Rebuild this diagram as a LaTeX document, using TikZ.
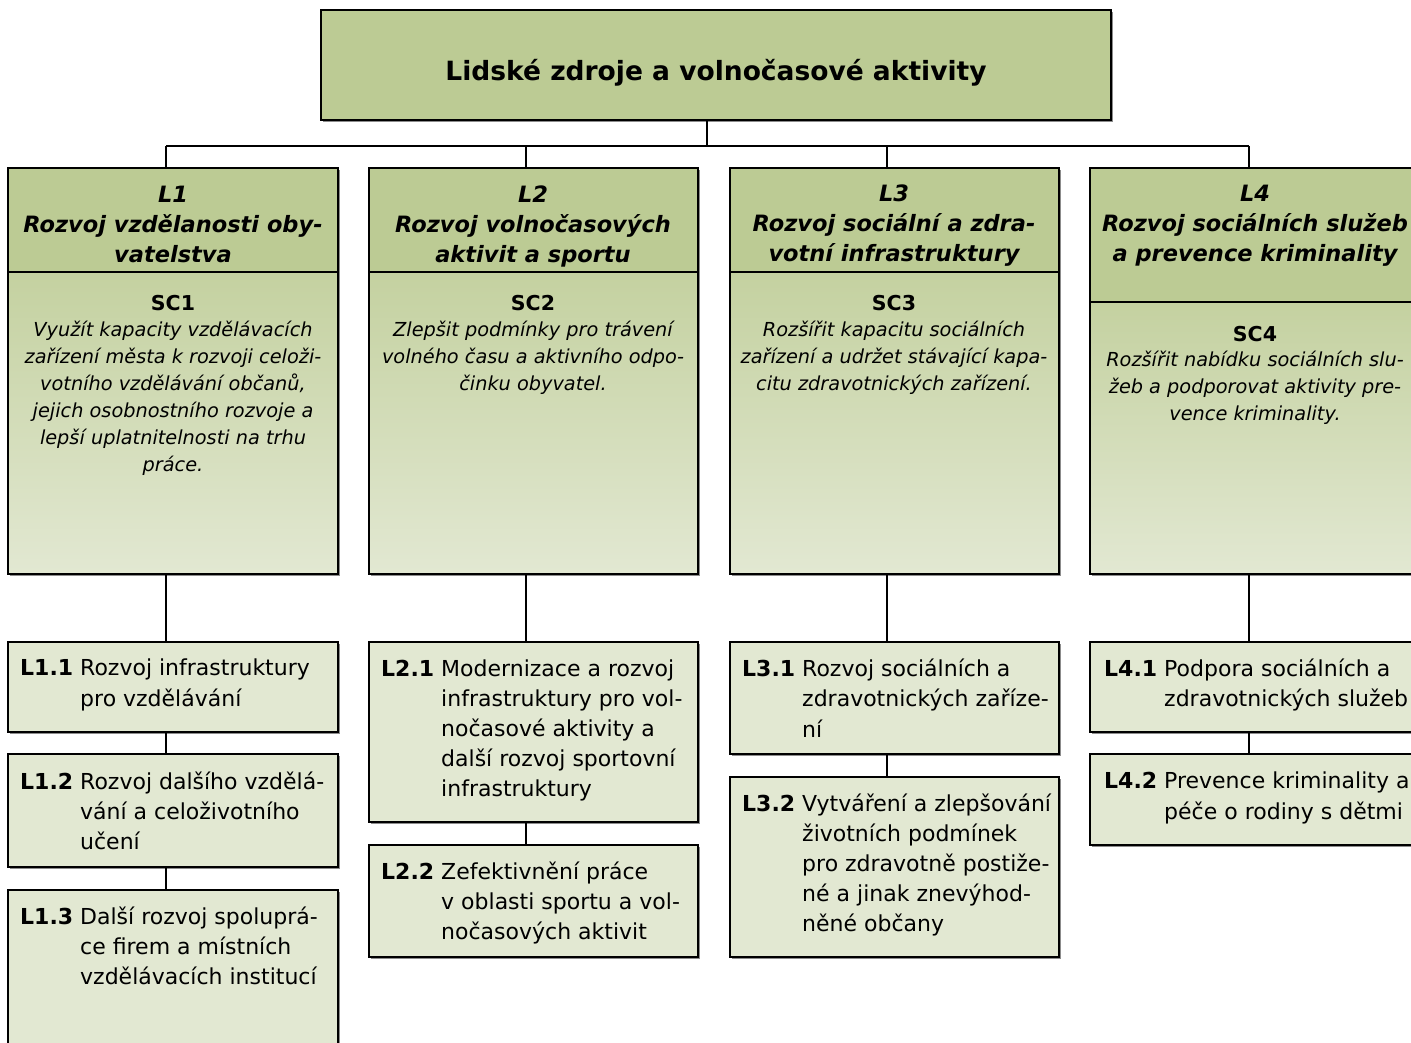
\documentclass[tikz,border=0pt]{standalone}
\usepackage{fontspec}
\setmainfont{DejaVu Sans}
\usetikzlibrary{shadows}
\definecolor{hdr}{RGB}{188,203,148}
\definecolor{bodytop}{RGB}{196,209,160}
\definecolor{bodybot}{RGB}{226,232,210}
\definecolor{subfill}{RGB}{226,232,210}
\tikzset{
 frame/.style={draw=black, line width=1.3pt, anchor=north west, inner sep=0pt, outer sep=0pt,
   drop shadow={shadow xshift=1.6pt, shadow yshift=-1.6pt, fill=black!45, opacity=1}},
 hdrbox/.style={frame, fill=hdr},
 bodybox/.style={frame, top color=bodytop, bottom color=bodybot},
 subbox/.style={frame, fill=subfill},
 titletext/.style={inner sep=0pt, font=\fontsize{26.5}{30}\selectfont\bfseries},
 htext/.style={align=center, inner sep=0pt, font=\fontsize{22.5}{30}\selectfont\bfseries\itshape},
 sclabel/.style={inner sep=0pt, font=\fontsize{20.5}{25}\selectfont\bfseries},
 sctext/.style={align=center, inner sep=0pt, font=\fontsize{19.3}{27.1}\selectfont\itshape},
 subtext/.style={align=left, anchor=west, inner sep=0pt, font=\fontsize{22}{30.2}\selectfont},
 conn/.style={draw=black, line width=1.2pt},
}
\newcommand{\lab}[1]{\makebox[60pt][l]{\bfseries #1}}
\newcommand{\ind}{\hspace*{60pt}}
\begin{document}
\begin{tikzpicture}[x=1pt,y=-1pt]
\useasboundingbox (0,0) rectangle (1411,1043);
\fill[white] (0,0) rectangle (1411,1043);

% top box
\node[hdrbox, minimum width=790pt, minimum height=110pt] (top) at (321,10) {};
\node[titletext] (title) at (716,73) {Lidské zdroje a volnočasové aktivity};

% columns: headers
\node[hdrbox, minimum width=330pt, minimum height=104pt] (h1) at (8,168) {};
\node[hdrbox, minimum width=329pt, minimum height=104pt] (h2) at (369,168) {};
\node[hdrbox, minimum width=329pt, minimum height=104pt] (h3) at (730,168) {};
\node[hdrbox, minimum width=330pt, minimum height=134pt] (h4) at (1090,168) {};
% columns: bodies
\node[bodybox, minimum width=330pt, minimum height=302pt] (b1) at (8,272) {};
\node[bodybox, minimum width=329pt, minimum height=302pt] (b2) at (369,272) {};
\node[bodybox, minimum width=329pt, minimum height=302pt] (b3) at (730,272) {};
\node[bodybox, minimum width=330pt, minimum height=272pt] (b4) at (1090,302) {};

% header texts
\node[htext] (ht1) at (173,224) {L1\\Rozvoj vzdělanosti oby-\\vatelstva};
\node[htext] (ht2) at (533,226) {L2\\Rozvoj volnočasových\\aktivit a sportu};
\node[htext] (ht3) at (894,226) {L3\\Rozvoj sociální a zdra-\\votní infrastruktury};
\node[htext] (ht4) at (1255,226) {L4\\Rozvoj sociálních služeb\\a prevence kriminality};

% SC labels and texts
\node[sclabel] (sc1) at (173,303) {SC1};
\node[sclabel] (sc2) at (533,303) {SC2};
\node[sclabel] (sc3) at (894,303) {SC3};
\node[sclabel] (sc4) at (1255,334) {SC4};
\node[sctext] (st1) at (173,398.5) {Využít kapacity vzdělávacích\\zařízení města k rozvoji celoži-\\votního vzdělávání občanů,\\jejich osobnostního rozvoje a\\lepší uplatnitelnosti na trhu\\práce.};
\node[sctext] (st2) at (533,358) {Zlepšit podmínky pro trávení\\volného času a aktivního odpo-\\činku obyvatel.};
\node[sctext] (st3) at (894,358) {Rozšířit kapacitu sociálních\\zařízení a udržet stávající kapa-\\citu zdravotnických zařízení.};
\node[sctext] (st4) at (1255,388) {Rozšířit nabídku sociálních slu-\\žeb a podporovat aktivity pre-\\vence kriminality.};

% sub boxes
\node[subbox, minimum width=330pt, minimum height=90pt]  (s11) at (8,642) {};
\node[subbox, minimum width=330pt, minimum height=113pt] (s12) at (8,754) {};
\node[subbox, minimum width=330pt, minimum height=180pt] (s13) at (8,890) {};
\node[subbox, minimum width=329pt, minimum height=180pt] (s21) at (369,642) {};
\node[subbox, minimum width=329pt, minimum height=112pt] (s22) at (369,845) {};
\node[subbox, minimum width=329pt, minimum height=112pt] (s31) at (730,642) {};
\node[subbox, minimum width=329pt, minimum height=180pt] (s32) at (730,777) {};
\node[subbox, minimum width=330pt, minimum height=90pt]  (s41) at (1090,642) {};
\node[subbox, minimum width=330pt, minimum height=91pt]  (s42) at (1090,754) {};

% sub texts
\node[subtext] (t11) at (20,685) {\lab{L1.1}Rozvoj infrastruktury\\\ind pro vzdělávání};
\node[subtext] (t12) at (20,811) {\lab{L1.2}Rozvoj dalšího vzdělá-\\\ind vání a celoživotního\\\ind učení};
\node[subtext] (t13) at (20,946) {\lab{L1.3}Další rozvoj spoluprá-\\\ind ce firem a místních\\\ind vzdělávacích institucí};
\node[subtext] (t21) at (381,730.5) {\lab{L2.1}Modernizace a rozvoj\\\ind infrastruktury pro vol-\\\ind nočasové aktivity a\\\ind další rozvoj sportovní\\\ind infrastruktury};
\node[subtext] (t22) at (381,903) {\lab{L2.2}Zefektivnění práce\\\ind v oblasti sportu a vol-\\\ind nočasových aktivit};
\node[subtext] (t31) at (742,698) {\lab{L3.1}Rozvoj sociálních a\\\ind zdravotnických zaříze-\\\ind ní};
\node[subtext] (t32) at (742,865) {\lab{L3.2}Vytváření a zlepšování\\\ind životních podmínek\\\ind pro zdravotně postiže-\\\ind né a jinak znevýhod-\\\ind něné občany};
\node[subtext] (t41) at (1104,685) {\lab{L4.1}Podpora sociálních a\\\ind zdravotnických služeb};
\node[subtext] (t42) at (1104,798) {\lab{L4.2}Prevence kriminality a\\\ind péče o rodiny s dětmi};

% connectors
\coordinate (bus0) at (707,146);
\coordinate (bus1) at (166,146);
\coordinate (bus2) at (526,146);
\coordinate (bus3) at (887,146);
\coordinate (bus4) at (1249,146);
\draw[conn] (top.south -| bus0) -- (bus0);
\draw[conn] (bus1) -- (bus4);
\foreach \i in {1,2,3,4} {
  \draw[conn] (bus\i) -- (bus\i |- h\i.north);
  \draw[conn] (bus\i |- b\i.south) -- (bus\i |- s\i1.north);
  \draw[conn] (bus\i |- s\i1.south) -- (bus\i |- s\i2.north);
}
\draw[conn] (bus1 |- s12.south) -- (bus1 |- s13.north);
\end{tikzpicture}
\end{document}
